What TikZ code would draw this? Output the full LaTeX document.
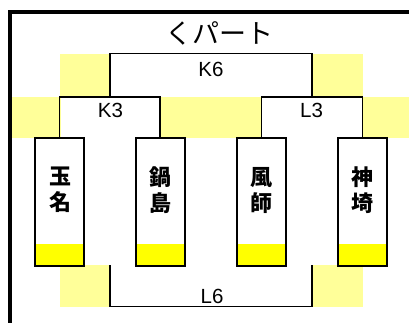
\documentclass[tikz,border=0pt]{standalone}
\usepackage{fontspec}
\setmainfont{Liberation Sans}
\newfontfamily\cjk{Noto Sans CJK JP}
\definecolor{lightyel}{HTML}{FFFF99}
\definecolor{brightyel}{HTML}{FFFF00}
\begin{document}
\begin{tikzpicture}[x=1pt,y=-1pt,
  band/.style={fill=lightyel,draw=none},
  bracket/.style={draw=black,line width=1.7pt},
  teambox/.style={draw=black,line width=2pt,fill=white,minimum width=49pt,minimum height=127pt,inner sep=0pt,outer sep=0pt,anchor=north},
  teamname/.style={font=\cjk\bfseries\fontsize{22}{26}\selectfont,align=center,inner sep=0pt},
  matchlabel/.style={font=\fontsize{20.5}{22}\selectfont,inner sep=0pt}]
\useasboundingbox (0,0) rectangle (409,323);
% yellow bands
\fill[band] (60,54) rectangle (110,97);
\fill[band] (312,54) rectangle (363,97);
\fill[band] (12,97) rectangle (61,138);
\fill[band] (160,97) rectangle (261,138);
\fill[band] (362,97) rectangle (409,138);
\fill[band] (60,265) rectangle (110,307);
\fill[band] (312,265) rectangle (363,307);
% frame
\draw[line width=4pt] (10,323) -- (10,12) -- (409,12);
% title
\node[font=\cjk\fontsize{27}{30}\selectfont,inner sep=0pt] (title) at (219,33) {くパート};
% boxes
\foreach \n/\x in {b1/59.5,b2/160,b3/261.5,b4/362.5}{
  \node[teambox] (\n) at (\x,138.5) {};
  \fill[brightyel] ([xshift=1pt,yshift=-1pt]\n.south west) rectangle ([xshift=-1pt,yshift=22pt]\n.south east);
  \draw[line width=2pt] (\n.south west) rectangle (\n.north east);
}
\node[teamname] (t1) at (60,190) {玉\\名};
\node[teamname] (t2) at (160,190) {鍋\\島};
\node[teamname] (t3) at (261.5,190) {風\\師};
\node[teamname] (t4) at (362.5,190) {神\\埼};
% brackets
\coordinate (k3m) at (110,97);
\coordinate (l3m) at (312,97);
\draw[bracket] (b1.north) |- (k3m) -| (b2.north);
\draw[bracket] (b3.north) |- (l3m) -| (b4.north);
\draw[bracket] (k3m) |- (211,53.5) -| (l3m);
\coordinate (l6a) at (110,265);
\coordinate (l6b) at (312,265);
\draw[bracket] (l6a) |- (211,306.5) -| (l6b);
% labels
\node[matchlabel] (k6) at (211,69) {K6};
\node[matchlabel] (k3) at (110.5,110) {K3};
\node[matchlabel] (l3) at (311.5,110) {L3};
\node[matchlabel] (l6) at (212,296) {L6};
\end{tikzpicture}
\end{document}
